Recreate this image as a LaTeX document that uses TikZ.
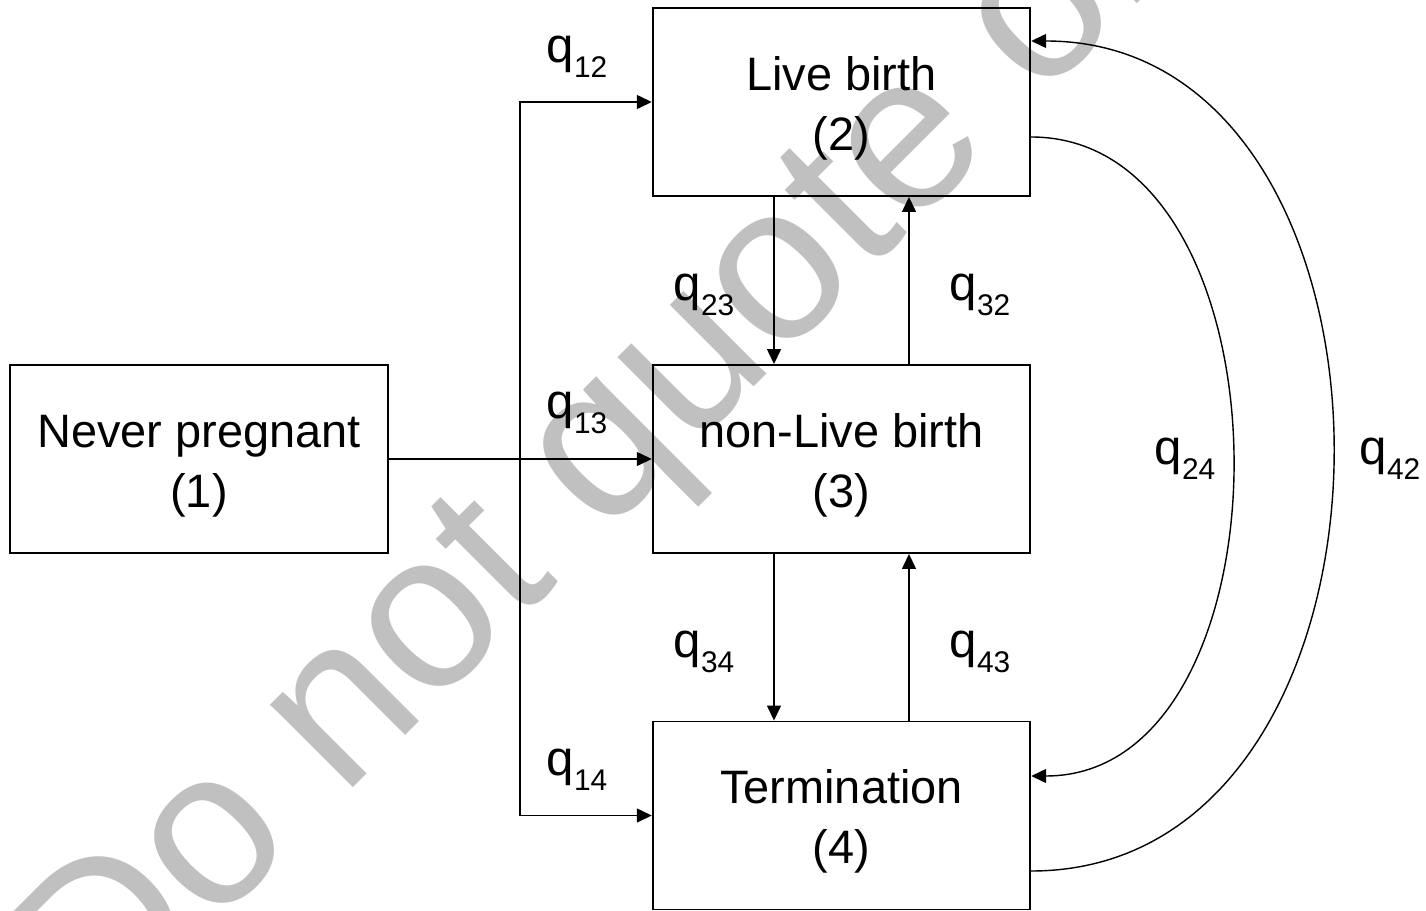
\documentclass[tikz,border=0pt]{standalone}
\usepackage{fontspec}
\setmainfont{Liberation Sans}
\usetikzlibrary{arrows.meta}
\definecolor{wmgray}{HTML}{C0C0C0}
\newcommand{\rate}[1]{q\raisebox{-0.29cm}{\fontsize{17}{18}\selectfont #1}}
\newcommand{\tall}{\rule{0pt}{0.92cm}}

\begin{document}
\begin{tikzpicture}[
  state/.style={draw,line width=1.1pt,minimum width=7.55cm,minimum height=3.76cm,inner sep=0pt,align=center,font=\fontsize{26.7}{34}\selectfont},
  lab/.style={inner sep=0pt,font=\fontsize{28}{32}\selectfont},
  flow/.style={line width=0.8pt,-{Triangle[length=0.3cm,width=0.28cm]}}]
\useasboundingbox (0,0) rectangle (28.52,18.2);
\begin{scope}
\clip (0,0) rectangle (28.52,18.2);
\node[anchor=base west,rotate=45,text=wmgray,inner sep=0pt,font=\fontsize{126}{130}\selectfont] (wm) at (1.98,-2.64) {Do not quote or cite};
\end{scope}
\node[state] (n1) at (3.98,9.02) {\tall Never pregnant\\(1)};
\node[state] (n2) at (16.83,16.16) {\tall Live birth\\(2)};
\node[state] (n3) at (16.83,9.02) {\tall non-Live birth\\(3)};
\node[state] (n4) at (16.83,1.89) {\tall Termination\\(4)};
\coordinate (j) at (10.4,9.02);
\draw[flow] (n1.east) -- (n3.west);
\draw[flow] (j) |- (n2.west);
\draw[flow] (j) |- (n4.west);
\draw[flow] ([xshift=-1.35cm]n2.south) -- ([xshift=-1.35cm]n3.north);
\draw[flow] ([xshift=1.35cm]n3.north) -- ([xshift=1.35cm]n2.south);
\draw[flow] ([xshift=-1.35cm]n3.south) -- ([xshift=-1.35cm]n4.north);
\draw[flow] ([xshift=1.35cm]n4.north) -- ([xshift=1.35cm]n3.south);
\draw[flow] ([yshift=-0.7cm]n2.east) to[out=0,in=0,distance=5.36cm] ([yshift=0.79cm]n4.east);
\draw[flow] ([yshift=-1.11cm]n4.east) to[out=0,in=0,distance=8.03cm] ([yshift=1.22cm]n2.east);
\node[lab] (q12) at (11.54,17.06) {\rate{12}};
\node[lab] (q13) at (11.54,9.94) {\rate{13}};
\node[lab] (q14) at (11.54,2.80) {\rate{14}};
\node[lab] (q23) at (14.08,12.30) {\rate{23}};
\node[lab] (q32) at (19.60,12.30) {\rate{32}};
\node[lab] (q34) at (14.08,5.16) {\rate{34}};
\node[lab] (q43) at (19.60,5.16) {\rate{43}};
\node[lab] (q24) at (23.70,9.02) {\rate{24}};
\node[lab] (q42) at (27.80,9.02) {\rate{42}};
\end{tikzpicture}
\end{document}
